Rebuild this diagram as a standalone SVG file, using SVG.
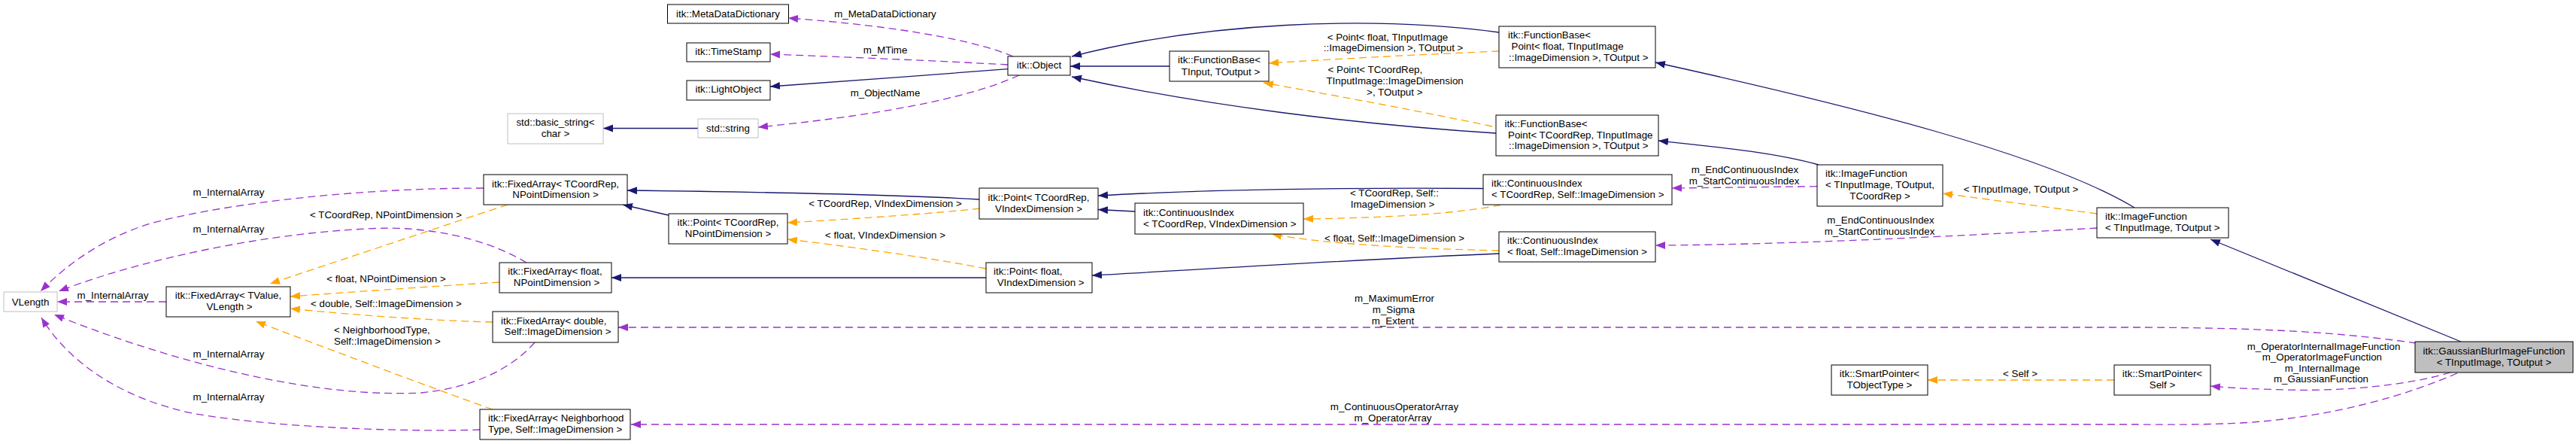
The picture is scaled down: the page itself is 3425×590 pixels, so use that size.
<svg xmlns="http://www.w3.org/2000/svg" width="3425" height="590" viewBox="0 0 3425 590">
<style>
text{font-family:"Liberation Sans",Arial,sans-serif;font-size:13.33px;fill:#000}
.m{text-anchor:middle}
.node rect{fill:#fff;stroke:#000;stroke-width:1}
.gray rect{stroke:#bfbfbf}
.focus rect{fill:#bfbfbf}
.inh{fill:none;stroke:#191970;stroke-width:1.3;marker-end:url(#ab)}
.tpl{fill:none;stroke:#ffa500;stroke-width:1.3;stroke-dasharray:10,6;marker-end:url(#ao)}
.use{fill:none;stroke:#9a32cd;stroke-width:1.3;stroke-dasharray:10,6;marker-end:url(#ap)}
</style>
<defs>
<marker id="ab" markerUnits="userSpaceOnUse" markerWidth="14" markerHeight="11" refX="13" refY="5" orient="auto" viewBox="0 0 14 10"><path d="M0,0 L13,5 L0,10z" fill="#191970"/></marker>
<marker id="ao" markerUnits="userSpaceOnUse" markerWidth="14" markerHeight="11" refX="13" refY="5" orient="auto" viewBox="0 0 14 10"><path d="M0,0 L13,5 L0,10z" fill="#ffa500"/></marker>
<marker id="ap" markerUnits="userSpaceOnUse" markerWidth="14" markerHeight="11" refX="13" refY="5" orient="auto" viewBox="0 0 14 10"><path d="M0,0 L13,5 L0,10z" fill="#9a32cd"/></marker>
</defs>
<rect width="3425" height="590" fill="#fff"/>
<g id="connectors">
<path class="inh" d="M1340,91.7 C1250,99 1100,109 1024,115"/>
<path class="inh" d="M928,170.5 L802,170.5"/>
<path class="inh" d="M1555,88 L1423,88"/>
<path class="inh" d="M1993,43 C1820,20 1600,30 1425,75"/>
<path class="inh" d="M1989,177 C1800,165 1600,140 1425,102"/>
<path class="inh" d="M2418,219 C2360,203 2290,196 2205,187"/>
<path class="inh" d="M2838,276 C2720,205 2460,140 2201,83"/>
<path class="inh" d="M3272,454 L2939,318"/>
<path class="inh" d="M889,286 L828,272"/>
<path class="inh" d="M1302,265 C1200,259 1000,255 834,253"/>
<path class="inh" d="M1509,281 L1460,278.5"/>
<path class="inh" d="M1972,250.5 C1800,249 1600,252 1460,260"/>
<path class="inh" d="M1311,369 L813,369"/>
<path class="inh" d="M1993,337 C1800,345 1600,358 1452,366"/>

<path class="tpl" d="M1993,68 C1900,72 1780,78 1687,84"/>
<text class="m" x="1845" y="53.7">&lt; Point&lt; float, TInputImage</text>
<text class="m" x="1852.6" y="68">::ImageDimension &gt;, TOutput &gt;</text>
<path class="tpl" d="M1984,168 C1900,150 1760,124 1680,110"/>
<text x="1765.5" y="97.3">&lt; Point&lt; TCoordRep,</text>
<text class="m" x="1854.6" y="112.3">TInputImage::ImageDimension</text>
<text class="m" x="1854.3" y="127.3">&gt;, TOutput &gt;</text>
<path class="tpl" d="M2788,284 C2720,275 2650,266 2583,257"/>
<text class="m" x="2687" y="256.3">&lt; TInputImage, TOutput &gt;</text>
<path class="tpl" d="M1995,272.5 C1950,281 1880,289 1733,291"/>
<text class="m" x="1854" y="261.3">&lt; TCoordRep, Self::</text>
<text class="m" x="1851.5" y="276.3">ImageDimension &gt;</text>
<path class="tpl" d="M1993,333 C1900,331 1760,325 1691,311"/>
<text class="m" x="1854" y="321.3">&lt; float, Self::ImageDimension &gt;</text>
<path class="tpl" d="M1303,277 C1250,283 1150,290 1047,296"/>
<text class="m" x="1177" y="275.3">&lt; TCoordRep, VIndexDimension &gt;</text>
<path class="tpl" d="M1311,357 C1250,345 1150,330 1047,318"/>
<text class="m" x="1177" y="317.3">&lt; float, VIndexDimension &gt;</text>
<path class="tpl" d="M675,272 C620,290 500,330 359,377"/>
<text class="m" x="513" y="289.7">&lt; TCoordRep, NPointDimension &gt;</text>
<path class="tpl" d="M664,375 C600,379 480,387 386,394"/>
<text class="m" x="513.5" y="374.7">&lt; float, NPointDimension &gt;</text>
<path class="tpl" d="M655,428 C600,427 480,420 386,410"/>
<text class="m" x="513.5" y="408">&lt; double, Self::ImageDimension &gt;</text>
<path class="tpl" d="M655,544 C600,525 480,480 340,427"/>
<text x="444" y="443">&lt; NeighborhoodType,</text>
<text x="444" y="458">Self::ImageDimension &gt;</text>
<path class="tpl" d="M2811,505 L2563,505"/>
<text class="m" x="2686" y="501.3">&lt; Self &gt;</text>

<path class="use" d="M1347,75 C1300,55 1200,35 1048,24"/>
<text class="m" x="1177" y="23">m_MetaDataDictionary</text>
<path class="use" d="M1340,86 C1250,81 1130,76 1024,72"/>
<text class="m" x="1177" y="71.3">m_MTime</text>
<path class="use" d="M1355,100 C1300,125 1200,150 1008,169"/>
<text class="m" x="1177" y="128">m_ObjectName</text>
<path class="use" d="M643,250 C450,250 280,275 200,297 C140,315 90,350 54,387"/>
<text class="m" x="304" y="259.7">m_InternalArray</text>
<path class="use" d="M700,349 C660,325 600,305 520,303 C380,305 200,340 78,387"/>
<text class="m" x="304" y="308.7">m_InternalArray</text>
<path class="use" d="M221,401 L76,401"/>
<text class="m" x="150" y="397.3">m_InternalArray</text>
<path class="use" d="M711,455 C680,490 630,515 560,522 C400,530 200,470 72,418"/>
<text class="m" x="304" y="475.3">m_InternalArray</text>
<path class="use" d="M638,571 C560,574 380,570 260,550 C160,530 90,480 55,422"/>
<text class="m" x="304" y="532">m_InternalArray</text>
<path class="use" d="M2416,247.7 L2223,250"/>
<text class="m" x="2320" y="229.7">m_EndContinuousIndex</text>
<text class="m" x="2319" y="244.7">m_StartContinuousIndex</text>
<path class="use" d="M2788,303 C2650,311 2400,325 2201,326"/>
<text class="m" x="2500.5" y="297.3">m_EndContinuousIndex</text>
<text class="m" x="2499" y="312">m_StartContinuousIndex</text>
<path class="use" d="M3213,456 C3100,440 3000,436 2850,435 L822,435"/>
<text class="m" x="1854" y="401.3">m_MaximumError</text>
<text class="m" x="1853" y="416.3">m_Sigma</text>
<text class="m" x="1852" y="431.3">m_Extent</text>
<path class="use" d="M3258,495 C3200,512 3120,520 3040,518 C3000,517 2970,516 2939,513"/>
<text class="m" x="3089.5" y="464.7">m_OperatorInternalImageFunction</text>
<text class="m" x="3087.4" y="479">m_OperatorImageFunction</text>
<text class="m" x="3087.8" y="493.7">m_InternalImage</text>
<text class="m" x="3086" y="508">m_GaussianFunction</text>
<path class="use" d="M3267,496 C3200,525 3100,555 2980,562 C2920,565 2870,564 2840,564 L839,564"/>
<text class="m" x="1854" y="545.3">m_ContinuousOperatorArray</text>
<text class="m" x="1852" y="560.3">m_OperatorArray</text>
</g>

<g id="n_metadatadictionary" class="node"><rect x="887.5" y="6" width="161" height="25"/><text class="m" x="968" y="22.5">itk::MetaDataDictionary</text></g>
<g id="n_timestamp" class="node"><rect x="913" y="57" width="111" height="25"/><text class="m" x="968.5" y="73">itk::TimeStamp</text></g>
<g id="n_lightobject" class="node"><rect x="913" y="107" width="111" height="26"/><text class="m" x="968.5" y="123">itk::LightObject</text></g>
<g id="n_basic_string" class="node gray"><rect x="675" y="151" width="127" height="40"/><text class="m" x="738.5" y="167.3">std::basic_string&lt;</text><text class="m" x="738.5" y="181.5">char &gt;</text></g>
<g id="n_string" class="node gray"><rect x="928" y="158" width="80" height="25"/><text class="m" x="968" y="174.7">std::string</text></g>
<g id="n_fixedarray_tcoordrep" class="node"><rect x="643" y="232" width="191" height="40"/><text class="m" x="738.5" y="248.5">itk::FixedArray&lt; TCoordRep,</text><text class="m" x="738.5" y="263">NPointDimension &gt;</text></g>
<g id="n_point_tcoordrep_npoint" class="node"><rect x="889" y="284" width="158" height="40"/><text class="m" x="968" y="299.5">itk::Point&lt; TCoordRep,</text><text class="m" x="968" y="315">NPointDimension &gt;</text></g>
<g id="n_object" class="node"><rect x="1340" y="75" width="83" height="25"/><text class="m" x="1381.5" y="91.3">itk::Object</text></g>
<g id="n_functionbase" class="node"><rect x="1555" y="68" width="132" height="40"/><text class="m" x="1621" y="84">itk::FunctionBase&lt;</text><text class="m" x="1623" y="99.5">TInput, TOutput &gt;</text></g>
<g id="n_point_tcoordrep_vindex" class="node"><rect x="1302" y="250" width="158" height="41"/><text class="m" x="1381" y="267.3">itk::Point&lt; TCoordRep,</text><text class="m" x="1381" y="281.5">VIndexDimension &gt;</text></g>
<g id="n_ci_tcoordrep_vindex" class="node"><rect x="1509" y="270" width="224" height="41"/><text x="1520" y="287.3">itk::ContinuousIndex</text><text x="1520" y="301.5">&lt; TCoordRep, VIndexDimension &gt;</text></g>
<g id="n_fb_point_float" class="node"><rect x="1993" y="35" width="208" height="55"/><text x="2005" y="51.3">itk::FunctionBase&lt;</text><text x="2009.5" y="66.3">Point&lt; float, TInputImage</text><text x="2006" y="81.3">::ImageDimension &gt;, TOutput &gt;</text></g>
<g id="n_fb_point_tcoordrep" class="node"><rect x="1989" y="153" width="216" height="54"/><text x="2000.5" y="169">itk::FunctionBase&lt;</text><text x="2005" y="183.7">Point&lt; TCoordRep, TInputImage</text><text x="2006" y="198.3">::ImageDimension &gt;, TOutput &gt;</text></g>
<g id="n_ci_tcoordrep_self" class="node"><rect x="1972" y="232" width="251" height="40"/><text x="1983" y="248">itk::ContinuousIndex</text><text x="1983" y="263">&lt; TCoordRep, Self::ImageDimension &gt;</text></g>
<g id="n_imagefunction3" class="node"><rect x="2416" y="219" width="167" height="55"/><text x="2427" y="235.4">itk::ImageFunction</text><text x="2427" y="250.4">&lt; TInputImage, TOutput,</text><text class="m" x="2499.5" y="265.4">TCoordRep &gt;</text></g>
<g id="n_imagefunction2" class="node"><rect x="2788" y="276" width="175" height="40"/><text x="2799" y="292">itk::ImageFunction</text><text x="2799" y="307">&lt; TInputImage, TOutput &gt;</text></g>
<g id="n_gaussianblur" class="node focus"><rect x="3211" y="454" width="210" height="41"/><text class="m" x="3316" y="471">itk::GaussianBlurImageFunction</text><text class="m" x="3316" y="485.7">&lt; TInputImage, TOutput &gt;</text></g>
<g id="n_smartpointer_self" class="node"><rect x="2811" y="485" width="128" height="40"/><text class="m" x="2875" y="501">itk::SmartPointer&lt;</text><text class="m" x="2875" y="516">Self &gt;</text></g>
<g id="n_smartpointer_tobj" class="node"><rect x="2435" y="485" width="128" height="40"/><text class="m" x="2499" y="501">itk::SmartPointer&lt;</text><text class="m" x="2499" y="516">TObjectType &gt;</text></g>
<g id="n_ci_float_self" class="node"><rect x="1993" y="308" width="208" height="40"/><text x="2004" y="324">itk::ContinuousIndex</text><text x="2004" y="339">&lt; float, Self::ImageDimension &gt;</text></g>
<g id="n_point_float_vindex" class="node"><rect x="1311" y="349" width="141" height="40"/><text x="1321" y="365">itk::Point&lt; float,</text><text x="1325.7" y="380">VIndexDimension &gt;</text></g>
<g id="n_fixedarray_float" class="node"><rect x="664" y="349" width="149" height="40"/><text class="m" x="738" y="365.3">itk::FixedArray&lt; float,</text><text class="m" x="740" y="380.3">NPointDimension &gt;</text></g>
<g id="n_fixedarray_double" class="node"><rect x="655" y="414" width="167" height="41"/><text x="666" y="431.3">itk::FixedArray&lt; double,</text><text x="670.6" y="445.3">Self::ImageDimension &gt;</text></g>
<g id="n_fixedarray_neigh" class="node"><rect x="638" y="544" width="200" height="40"/><text x="649" y="560.3">itk::FixedArray&lt; Neighborhood</text><text x="649" y="575.3">Type, Self::ImageDimension &gt;</text></g>
<g id="n_fixedarray_tvalue" class="node"><rect x="221" y="381" width="165" height="40"/><text class="m" x="303.5" y="397.3">itk::FixedArray&lt; TValue,</text><text class="m" x="305" y="412">VLength &gt;</text></g>
<g id="n_vlength" class="node gray"><rect x="5" y="388" width="71" height="26"/><text class="m" x="40.5" y="405.5">VLength</text></g>
</svg>
